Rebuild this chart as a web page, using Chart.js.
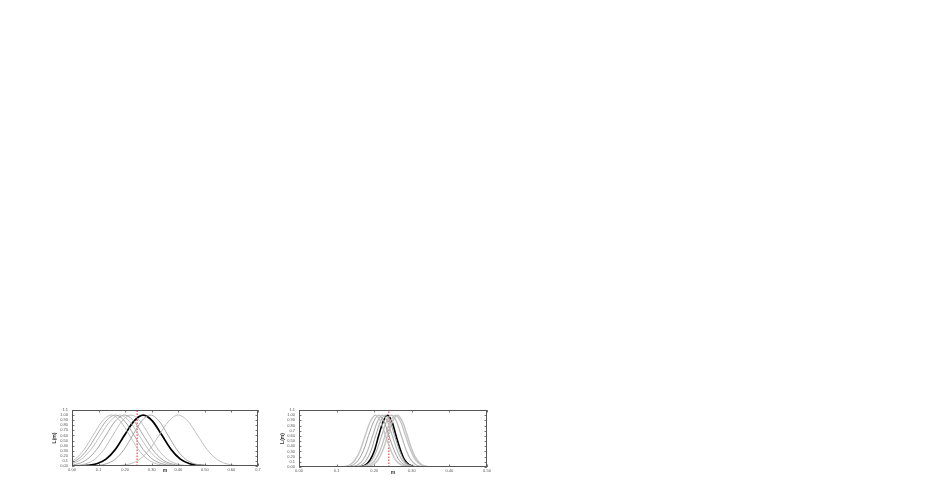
<!DOCTYPE html>
<html>
<head>
<meta charset="utf-8">
<script src="https://cdn.jsdelivr.net/npm/chart.js@4/dist/chart.umd.min.js"></script>
<style>
  html, body { margin: 0; padding: 0; background: #ffffff; width: 926px; height: 491px; overflow: hidden; }
  .box { position: absolute; }
  #boxL { left: 50px; top: 400px; width: 220px; height: 80px; }
  #boxR { left: 278px; top: 400px; width: 222px; height: 80px; }
</style>
</head>
<body>
<div class="box" id="boxL"><canvas id="cL" width="220" height="80"></canvas></div>
<div class="box" id="boxR"><canvas id="cR" width="222" height="80"></canvas></div>
<script>
// ---------------- data: left panel ----------------
const leftXTickLabels = ['0.00','0.1','0.20','0.30','0.40','0.50','0.60','0.7'];
const leftYTickLabels = ['0.00','0.1','0.20','0.30','0.40','0.50','0.60','0.70','0.80','0.90','1.00','1.1'];
const leftMarker = 0.245;

const leftA_x = [-0.090,-0.056,-0.022,0.012,0.046,0.080,0.114,0.148,0.182,0.216,0.250,0.284,0.318,0.352,0.386];
const leftA_y = [0.002,0.012,0.045,0.136,0.326,0.607,0.882,1.000,0.881,0.606,0.324,0.134,0.043,0.011,0.002];
const leftB_x = [-0.082,-0.047,-0.012,0.023,0.058,0.093,0.128,0.163,0.198,0.233,0.268,0.303,0.338,0.373,0.408];
const leftB_y = [0.002,0.011,0.044,0.135,0.325,0.607,0.882,1.000,0.882,0.607,0.325,0.135,0.044,0.011,0.002];
const leftC_x = [-0.072,-0.036,0.000,0.036,0.072,0.108,0.144,0.180,0.216,0.252,0.288,0.324,0.360,0.396,0.432];
const leftC_y = [0.002,0.011,0.046,0.137,0.327,0.609,0.883,1.000,0.880,0.605,0.323,0.133,0.043,0.010,0.002];
const leftD_x = [-0.047,-0.012,0.023,0.058,0.093,0.128,0.163,0.198,0.233,0.268,0.303,0.338,0.373,0.408,0.443];
const leftD_y = [0.002,0.011,0.044,0.135,0.325,0.607,0.882,1.000,0.882,0.607,0.325,0.135,0.044,0.011,0.002];
const leftE_x = [-0.016,0.018,0.052,0.086,0.120,0.154,0.188,0.222,0.256,0.290,0.324,0.358,0.392,0.426,0.460];
const leftE_y = [0.002,0.011,0.044,0.134,0.324,0.606,0.881,1.000,0.883,0.608,0.326,0.136,0.045,0.011,0.002];
const leftF_x = [0.064,0.097,0.130,0.163,0.196,0.229,0.262,0.295,0.328,0.361,0.394,0.427,0.460,0.493,0.526];
const leftF_y = [0.002,0.011,0.044,0.135,0.325,0.607,0.882,1.000,0.882,0.607,0.325,0.135,0.044,0.011,0.002];
const leftG_x = [0.148,0.184,0.220,0.256,0.292,0.328,0.364,0.400,0.436,0.472,0.508,0.544,0.580,0.616,0.652];
const leftG_y = [0.002,0.011,0.044,0.135,0.325,0.607,0.882,1.000,0.882,0.607,0.325,0.135,0.044,0.011,0.002];
const leftBest_x = [0.023,0.058,0.093,0.128,0.163,0.198,0.233,0.268,0.303,0.338,0.373,0.408,0.443,0.478,0.513];
const leftBest_y = [0.002,0.011,0.044,0.135,0.325,0.607,0.882,1.000,0.882,0.607,0.325,0.135,0.044,0.011,0.002];

// ---------------- data: right panel ----------------
const rightXTickLabels = ['0.00','0.1','0.20','0.30','0.40','0.50'];
const rightYTickLabels = ['0.00','0.1','0.20','0.30','0.40','0.50','0.60','0.7','0.80','0.90','1.00','1.1'];
const rightMarker = 0.239;

const right1_x = [0.109,0.122,0.136,0.149,0.163,0.176,0.190,0.203,0.217,0.230,0.244,0.257,0.271,0.284,0.298];
const right1_y = [0.002,0.011,0.044,0.135,0.325,0.607,0.882,1.000,0.882,0.607,0.325,0.135,0.044,0.011,0.002];
const right2_x = [0.118,0.131,0.145,0.158,0.172,0.185,0.199,0.212,0.226,0.239,0.253,0.266,0.280,0.293,0.307];
const right2_y = [0.002,0.011,0.045,0.136,0.326,0.608,0.882,1.000,0.881,0.606,0.324,0.134,0.043,0.011,0.002];
const right3_x = [0.131,0.144,0.157,0.170,0.183,0.196,0.209,0.222,0.235,0.248,0.261,0.274,0.287,0.300,0.313];
const right3_y = [0.002,0.011,0.044,0.135,0.325,0.607,0.882,1.000,0.882,0.607,0.325,0.135,0.044,0.011,0.002];
const right4_x = [0.142,0.154,0.167,0.179,0.192,0.204,0.217,0.229,0.242,0.254,0.267,0.279,0.292,0.304,0.317];
const right4_y = [0.002,0.011,0.044,0.135,0.325,0.607,0.882,1.000,0.882,0.607,0.325,0.135,0.044,0.011,0.002];
const right5_x = [0.155,0.168,0.181,0.194,0.207,0.220,0.233,0.246,0.259,0.272,0.285,0.298,0.311,0.324,0.337];
const right5_y = [0.002,0.011,0.044,0.135,0.325,0.607,0.882,1.000,0.882,0.607,0.325,0.135,0.044,0.011,0.002];
const right6_x = [0.162,0.175,0.189,0.202,0.216,0.229,0.243,0.256,0.270,0.283,0.297,0.310,0.324,0.337,0.351];
const right6_y = [0.002,0.011,0.043,0.134,0.324,0.606,0.881,1.000,0.883,0.608,0.326,0.136,0.045,0.011,0.002];
const right7_x = [0.171,0.184,0.197,0.210,0.223,0.236,0.249,0.262,0.275,0.288,0.301,0.314,0.327,0.340,0.353];
const right7_y = [0.002,0.011,0.044,0.135,0.325,0.607,0.882,1.000,0.882,0.607,0.325,0.135,0.044,0.011,0.002];
const rightBest_x = [0.155,0.166,0.178,0.189,0.201,0.212,0.224,0.235,0.247,0.258,0.270,0.281,0.293,0.304,0.316];
const rightBest_y = [0.002,0.011,0.044,0.135,0.325,0.607,0.882,1.000,0.882,0.607,0.325,0.135,0.044,0.011,0.002];

// ---------------- helpers ----------------
function pts(xs, ys, xmax) {
  const out = xs.map((x, i) => ({x: x, y: ys[i]}));
  if (xs[0] > 0) out.unshift({x: 0, y: 0});
  if (xs[xs.length - 1] < xmax) out.push({x: xmax, y: 0});
  return out;
}
function curve(xs, ys, xmax, color, width) {
  return { data: pts(xs, ys, xmax), borderColor: color, borderWidth: width,
           pointRadius: 0, fill: false, cubicInterpolationMode: 'monotone' };
}
function marker(x, ymax) {
  return { data: [{x: x, y: 0}, {x: x, y: ymax}], borderColor: '#e8201c', borderWidth: 1,
           borderDash: [1.5, 1.5], pointRadius: 0, fill: false, tension: 0,
           cubicInterpolationMode: 'default' };
}

const frameTicks = {
  id: 'frameTicks',
  afterDatasetsDraw(chart) {
    const {ctx, chartArea: {left, right, top, bottom}, scales: {x, y}} = chart;
    ctx.save();
    ctx.strokeStyle = '#555';
    ctx.lineWidth = 1;
    ctx.strokeRect(Math.round(left) + 0.5, Math.round(top) + 0.5,
                   Math.round(right) - Math.round(left) - 1, Math.round(bottom) - Math.round(top) - 1);
    ctx.lineWidth = 0.8;
    ctx.beginPath();
    x.ticks.forEach(t => {
      const px = Math.round(x.getPixelForValue(t.value)) + 0.5;
      ctx.moveTo(px, bottom); ctx.lineTo(px, bottom - 2.5);
      ctx.moveTo(px, top); ctx.lineTo(px, top + 2.5);
    });
    y.ticks.forEach(t => {
      const py = Math.round(y.getPixelForValue(t.value)) + 0.5;
      ctx.moveTo(left, py); ctx.lineTo(left + 2.5, py);
      ctx.moveTo(right, py); ctx.lineTo(right - 2.5, py);
    });
    ctx.stroke();
    ctx.restore();
  }
};

function makeChart(id, datasets, xmax, xLabels, yLabels, yWidth, xHeight, padRight, xTitlePad, yTitlePad) {
  const tickFont = {family: 'Liberation Sans', size: 4};
  const titleFont = {family: 'Liberation Sans', size: 5, weight: 'bold'};
  return new Chart(document.getElementById(id), {
    type: 'line',
    data: { datasets: datasets },
    plugins: [frameTicks],
    options: {
      responsive: false,
      animation: false,
      devicePixelRatio: 1,
      layout: { padding: { left: 0, right: padRight, top: 10, bottom: 0 } },
      plugins: { legend: { display: false }, tooltip: { enabled: false } },
      scales: {
        x: {
          type: 'linear', min: 0, max: xmax,
          afterFit(s) { s.height = xHeight; },
          grid: { display: false, drawTicks: false },
          border: { display: false },
          ticks: { stepSize: 0.1, autoSkip: false, maxRotation: 0, padding: 1.5,
                   font: tickFont, color: '#555',
                   callback: (v, i) => xLabels[i] },
          title: { display: true, text: 'm', font: titleFont, color: '#333',
                   padding: { top: 0, bottom: xTitlePad } }
        },
        y: {
          type: 'linear', min: 0, max: 1.1,
          afterFit(s) { s.width = yWidth; },
          grid: { display: false, drawTicks: false },
          border: { display: false },
          ticks: { stepSize: 0.1, autoSkip: false, padding: 4,
                   font: tickFont, color: '#555',
                   callback: (v, i) => yLabels[i] },
          title: { display: true, text: 'L(m)', font: titleFont, color: '#333',
                   padding: { top: yTitlePad, bottom: 0 } }
        }
      }
    }
  });
}

const g1 = '#b8b8b8', g2 = '#9c9c9c', g3 = '#c4c4c4';

makeChart('cL', [
  curve(leftA_x, leftA_y, 0.7, g1, 0.9),
  curve(leftB_x, leftB_y, 0.7, g2, 0.9),
  curve(leftC_x, leftC_y, 0.7, g1, 0.9),
  curve(leftD_x, leftD_y, 0.7, g2, 0.9),
  curve(leftE_x, leftE_y, 0.7, g1, 0.9),
  curve(leftF_x, leftF_y, 0.7, g2, 0.9),
  curve(leftG_x, leftG_y, 0.7, g1, 0.9),
  curve(leftBest_x, leftBest_y, 0.7, '#000000', 1.8),
  marker(leftMarker, 1.1)
], 0.7, leftXTickLabels, leftYTickLabels, 22, 14, 12, 6, 2);

makeChart('cR', [
  curve(right1_x, right1_y, 0.5, g3, 1.4),
  curve(right2_x, right2_y, 0.5, g2, 1),
  curve(right3_x, right3_y, 0.5, g1, 1.2),
  curve(right4_x, right4_y, 0.5, g2, 1),
  curve(right5_x, right5_y, 0.5, g1, 1.2),
  curve(right6_x, right6_y, 0.5, g3, 1.4),
  curve(right7_x, right7_y, 0.5, g3, 1.4),
  curve(rightBest_x, rightBest_y, 0.5, '#000000', 1.6),
  marker(rightMarker, 1.1)
], 0.5, rightXTickLabels, rightYTickLabels, 21, 13, 13, 4, 2);
</script>
</body>
</html>
